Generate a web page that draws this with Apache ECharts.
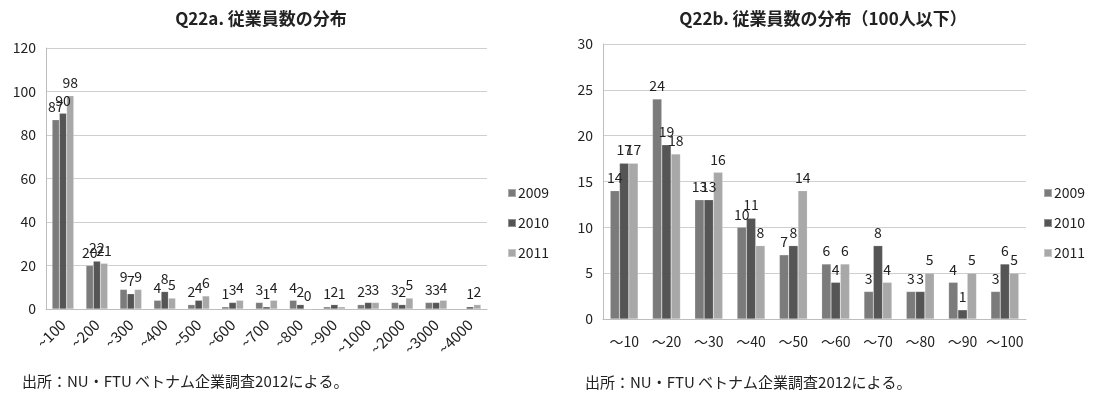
<!DOCTYPE html>
<html>
<head>
<meta charset="utf-8">
<script src="https://cdn.jsdelivr.net/npm/echarts@6/dist/echarts.min.js"></script>
<style>
  html, body { margin: 0; padding: 0; background: #fff; }
  #chart { width: 1095px; height: 397px; }
</style>
</head>
<body>
<div id="chart"></div>
<script>
// Q22a: all companies, by number of employees
const catsA = ['~100', '~200', '~300', '~400', '~500', '~600', '~700', '~800', '~900', '~1000', '~2000', '~3000', '~4000'];
const a2009 = [87, 20, 9, 4, 2, 1, 3, 4, 1, 2, 3, 3, '-'];
const a2010 = [90, 22, 7, 8, 4, 3, 1, 2, 2, 3, 2, 3, 1];
const a2011 = [98, 21, 9, 5, 6, 4, 4, 0, 1, 3, 5, 4, 2];
const ticksA = { min: 0, max: 120, interval: 20 };

// Q22b: companies with 100 employees or fewer
const catsB = ['～10', '～20', '～30', '～40', '～50', '～60', '～70', '～80', '～90', '～100'];
const b2009 = [14, 24, 13, 10, 7, 6, 3, 3, 4, 3];
const b2010 = [17, 19, 13, 11, 8, 4, 8, 3, 1, 6];
const b2011 = [17, 18, 16, 8, 14, 6, 4, 5, 5, 5];
const ticksB = { min: 0, max: 30, interval: 5 };

const years = ['2009', '2010', '2011'];
const colors = ['#7b7b7b', '#555555', '#a8a8a8'];
const FONT = '"Noto Sans CJK JP", "Noto Sans", sans-serif';
const TEXT = '#222';
const FS = 14;

const chart = echarts.init(document.getElementById('chart'), null, { renderer: 'canvas' });

function barSeries(name, data, idx, color, catGap) {
  return {
    name: name,
    type: 'bar',
    xAxisIndex: idx,
    yAxisIndex: idx,
    data: data,
    barGap: '0%',
    barCategoryGap: catGap,
    itemStyle: { color: color, borderColor: 'rgba(255,255,255,0.35)', borderWidth: 0.5 },
    label: {
      show: true,
      position: 'top',
      distance: 6,
      color: TEXT,
      fontFamily: FONT,
      fontSize: FS
    },
    animation: false
  };
}

function yAxis(idx, t) {
  return {
    type: 'value',
    gridIndex: idx,
    min: t.min, max: t.max, interval: t.interval,
    axisLine: { show: true, lineStyle: { color: '#bdbdbd', width: 1 } },
    axisTick: { show: false },
    axisLabel: { color: TEXT, fontFamily: FONT, fontSize: FS, margin: 10 },
    splitLine: { lineStyle: { color: '#cfcfcf', width: 1 } }
  };
}

function legend(left) {
  return {
    data: years, orient: 'vertical', left: left, top: 181,
    itemWidth: 8, itemHeight: 8, itemGap: 16, icon: 'rect',
    textStyle: { fontFamily: FONT, fontSize: FS, color: TEXT, padding: [0, 0, 0, -3] },
    selectedMode: false
  };
}

const titleStyle = { fontFamily: FONT, fontSize: 17, fontWeight: 'bold', color: TEXT };
const noteStyle = { fontFamily: FONT, fontSize: 15, fill: TEXT };
const note = '出所：NU・FTU ベトナム企業調査2012による。';

const option = {
  backgroundColor: '#fff',
  animation: false,
  textStyle: { fontFamily: FONT },
  title: [
    { text: 'Q22a. 従業員数の分布', left: 256, top: 5, textAlign: 'center', textStyle: titleStyle },
    { text: 'Q22b. 従業員数の分布（100人以下）', left: 818, top: 5, textAlign: 'center', textStyle: titleStyle }
  ],
  legend: [legend(502), legend(1038)],
  grid: [
    { left: 46, top: 48, width: 441, height: 261 },
    { left: 603, top: 44, width: 423, height: 275 }
  ],
  xAxis: [
    {
      type: 'category', gridIndex: 0, data: catsA,
      axisLine: { lineStyle: { color: '#bdbdbd' } },
      axisTick: { show: false },
      axisLabel: { rotate: 45, color: TEXT, fontFamily: FONT, fontSize: 15, margin: 13, interval: 0 }
    },
    {
      type: 'category', gridIndex: 1, data: catsB,
      axisLine: { lineStyle: { color: '#bdbdbd' } },
      axisTick: { show: false },
      axisLabel: { color: TEXT, fontFamily: FONT, fontSize: FS, margin: 16, interval: 0 }
    }
  ],
  yAxis: [yAxis(0, ticksA), yAxis(1, ticksB)],
  series: [
    barSeries(years[0], a2009, 0, colors[0], '36%'),
    barSeries(years[1], a2010, 0, colors[1], '36%'),
    barSeries(years[2], a2011, 0, colors[2], '36%'),
    barSeries(years[0], b2009, 1, colors[0], '34%'),
    barSeries(years[1], b2010, 1, colors[1], '34%'),
    barSeries(years[2], b2011, 1, colors[2], '34%')
  ],
  graphic: [
    { type: 'text', left: 22, top: 374, style: Object.assign({ text: note }, noteStyle) },
    { type: 'text', left: 585, top: 375, style: Object.assign({ text: note }, noteStyle) }
  ]
};

chart.setOption(option);
</script>
</body>
</html>
